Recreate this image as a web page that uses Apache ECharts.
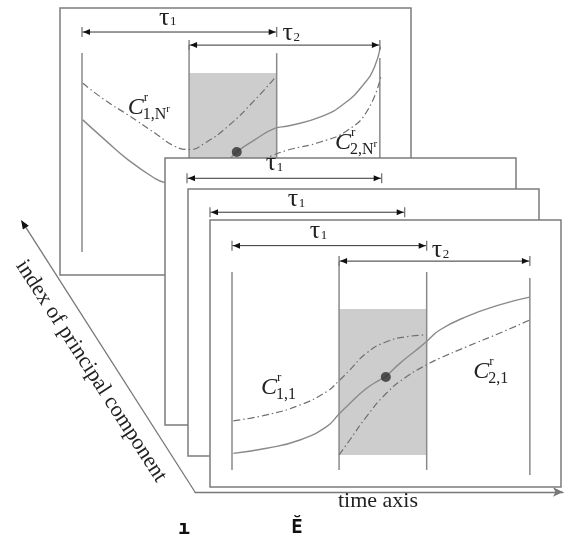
<!DOCTYPE html>
<html><head><meta charset="utf-8">
<script src="https://cdn.jsdelivr.net/npm/echarts@6/dist/echarts.min.js"></script>
<style>html,body{margin:0;padding:0;background:#fff}#c{width:568px;height:537px}</style>
</head><body><div id="c"></div><script>
// ---------- DATA (time units along x, amplitude 0-100 along y) ----------
// Back panel (principal component N^r)
const backSolidLeft  = [[0.04,58.1],[1.18,50.6],[2.37,43.1],[3.74,36.2],[4.26,34.6]];
const backSolidRight = [[7.59,43.3],[7.93,46.0],[8.87,50.6],[9.9,54.9],[10.58,55.8],[12.29,59.3],[13.49,64.3],[14.51,71.8],[15.03,78.0],[15.33,85.5]];
const backDash1 = [[0.04,71.8],[1.18,65.5],[2.37,59.9],[3.74,53.2],[4.77,48.2],[5.54,47.0],[6.31,49.4],[7.5,55.7],[8.87,65.5],[9.95,74.2]];
const backDash2 = [[9.2,42.8],[9.73,44.6],[10.58,46.8],[12.29,49.9],[13.66,54.3],[14.68,61.8],[15.37,74.9]];
const backDot = [[7.95,46.1]];
const backShade = [[5.5,10,75.7,5]];
const backVLines = [[0,83.1,8.6],[5.5,86.1,8.6],[10,83.1,8.6],[15.3,81.3,8.6]];
const backDims = [[0,10,91.0],[5.5,15.3,86.1]];
const backTaus = [[3.95,95.3,'1'],[10.3,89.5,'2']];
const backCLabels = [[2.35,62.7,'1,N','r'],[13.0,49.6,'2,N','r']];

// Middle panels (only the tau_1 window visible)
const mid2Dims = [[0,10,92.4]];
const mid2Taus = [[4.05,97.0,'1']];
const mid3Dims = [[0,10,91.3]];
const mid3Taus = [[4.0,95.2,'1']];

// Front panel (principal component 1)
const frontSolid = [[0.07,12.6],[1.78,14.5],[3.49,17.6],[4.86,22.6],[5.5,27.3],[6.05,31.3],[6.9,36.9],[7.59,40.1],[7.88,41.3],[8.62,46.3],[9.47,51.3],[9.98,54.4],[10.67,58.8],[12.04,63.8],[13.74,68.2],[15.28,71.1]];
const frontDash1 = [[0.07,24.8],[1.78,27.0],[3.49,30.7],[4.86,35.7],[5.5,39.8],[6.05,43.8],[6.9,50.1],[7.93,54.4],[8.96,56.3],[9.98,56.9]];
const frontDash2 = [[5.5,12.0],[6.05,17.6],[6.9,26.3],[7.93,35.1],[8.96,41.3],[9.98,45.7],[10.67,48.2],[12.04,52.5],[13.74,57.6],[15.28,62.5]];
const frontDot = [[7.9,41.2]];
const frontShade = [[5.5,10,66.7,12.0]];
const frontVLines = [[0,80.5,6.4],[5.5,84.3,6.4],[10,80.5,6.4],[15.3,78.3,4.5]];
const frontDims = [[0,10,90.4],[5.5,15.3,84.6]];
const frontTaus = [[4.0,94.9,'1'],[10.26,87.6,'2']];
const frontCLabels = [[1.49,37.1,'1,1',''],[12.39,43.2,'2,1','']];

const xAxisTitle = 'time axis';
const yAxisTitle = 'index of principal component';

// ---------- LAYOUT ----------
const PW = 351, PH = 267;
const panelPos = [[60,8],[165,158],[188,189],[210,220]];
const SERIF = '"Liberation Serif","Times New Roman",serif';
const GREY = '#8a8a8a';

function shadeRender(arr){
  return function(params, api){
    const d = arr[params.dataIndex];
    const a = api.coord([d[0], d[2]]), b = api.coord([d[1], d[3]]);
    return {type:'rect', shape:{x:a[0], y:a[1], width:b[0]-a[0], height:b[1]-a[1]}, style:{fill:'#cdcdcd'}};
  };
}
function vlineRender(arr){
  return function(params, api){
    const d = arr[params.dataIndex];
    const a = api.coord([d[0], d[1]]), b = api.coord([d[0], d[2]]);
    return {type:'line', shape:{x1:a[0], y1:a[1], x2:b[0], y2:b[1]}, style:{stroke:GREY, lineWidth:1.5}};
  };
}
function dimRender(arr){
  return function(params, api){
    const d = arr[params.dataIndex];
    const a = api.coord([d[0], d[2]]), b = api.coord([d[1], d[2]]);
    const y = a[1], L = 7, W = 3;
    return {type:'group', children:[
      {type:'line', shape:{x1:a[0], y1:y, x2:b[0], y2:y}, style:{stroke:'#333', lineWidth:1}},
      {type:'line', shape:{x1:a[0], y1:y-5, x2:a[0], y2:y+5}, style:{stroke:'#777', lineWidth:1.3}},
      {type:'line', shape:{x1:b[0], y1:y-5, x2:b[0], y2:y+5}, style:{stroke:'#777', lineWidth:1.3}},
      {type:'polygon', shape:{points:[[a[0]+1,y],[a[0]+1+L,y-W],[a[0]+1+L,y+W]]}, style:{fill:'#111'}},
      {type:'polygon', shape:{points:[[b[0]-1,y],[b[0]-1-L,y-W],[b[0]-1-L,y+W]]}, style:{fill:'#111'}}
    ]};
  };
}
function tauRender(arr){
  return function(params, api){
    const d = arr[params.dataIndex];
    const p = api.coord([d[0], d[1]]);
    return {type:'group', children:[
      {type:'text', x:p[0], y:p[1]-2.5, style:{text:'τ', font:'26px '+SERIF, fill:'#222', align:'left', verticalAlign:'middle'}},
      {type:'text', x:p[0]+11, y:p[1]+1.5, style:{text:d[2], font:'13px '+SERIF, fill:'#222', align:'left', verticalAlign:'middle'}}
    ]};
  };
}
function cRender(arr){
  return function(params, api){
    const d = arr[params.dataIndex];
    const p = api.coord([d[0], d[1]]);
    const ch = [
      {type:'text', x:p[0], y:p[1], style:{text:'C', font:'italic 24px '+SERIF, fill:'#222', align:'left', verticalAlign:'middle'}},
      {type:'text', x:p[0]+16, y:p[1]-10, style:{text:'r', font:'13px '+SERIF, fill:'#222', align:'left', verticalAlign:'middle'}},
      {type:'text', x:p[0]+15, y:p[1]+7, style:{text:d[2], font:'16px '+SERIF, fill:'#222', align:'left', verticalAlign:'middle'}}
    ];
    if (d[3]) ch.push({type:'text', x:p[0]+38.5, y:p[1]+2, style:{text:d[3], font:'11px '+SERIF, fill:'#222', align:'left', verticalAlign:'middle'}});
    return {type:'group', children:ch};
  };
}

const grids = [], xAxes = [], yAxes = [], series = [];
panelPos.forEach((p,i) => {
  grids.push({left:p[0], top:p[1], width:PW, height:PH, show:true, backgroundColor:'#fff', borderColor:'#7c7c7c', borderWidth:1.5, z:10*(i+1)});
  xAxes.push({gridIndex:i, type:'value', min:-1.13, max:16.9, show:false});
  yAxes.push({gridIndex:i, type:'value', min:0, max:100, show:false});
});
// time axis grid
grids.push({left:195, right:5, top:480, height:12, show:false});
xAxes.push({gridIndex:4, type:'value', min:0, max:1, show:true, position:'bottom',
  axisLine:{show:true, lineStyle:{color:'#777', width:1.3}, symbol:['none','arrow'], symbolSize:[7,10]},
  axisTick:{show:false}, axisLabel:{show:false}, splitLine:{show:false}});
yAxes.push({gridIndex:4, type:'value', show:false});

function addCustom(i, arr, render, zo){
  series.push({type:'custom', xAxisIndex:i, yAxisIndex:i, z:10*(i+1)+zo, silent:true,
    data:arr.map(d=>[d[0], d[1]]), renderItem:render(arr)});
}
function addLine(i, arr, dashed){
  series.push({type:'line', xAxisIndex:i, yAxisIndex:i, z:10*(i+1)+3, data:arr, smooth:0.5,
    showSymbol:false, silent:true,
    lineStyle:{color: dashed ? '#707070' : GREY, width: dashed ? 1.2 : 1.4, type: dashed ? [7,3,1.5,3] : 'solid'}});
}
function addDot(i, arr){
  series.push({type:'scatter', xAxisIndex:i, yAxisIndex:i, z:10*(i+1)+4, data:arr, symbolSize:10, silent:true,
    itemStyle:{color:'#2e2e2e'}});
}

// back panel (index 0)
addCustom(0, backShade, shadeRender, 1);
addCustom(0, backVLines, vlineRender, 2);
addLine(0, backSolidLeft, false);
addLine(0, backSolidRight, false);
addLine(0, backDash1, true);
addLine(0, backDash2, true);
addDot(0, backDot);
addCustom(0, backDims, dimRender, 5);
addCustom(0, backTaus, tauRender, 5);
addCustom(0, backCLabels, cRender, 5);
// middle panels
addCustom(1, mid2Dims, dimRender, 5);
addCustom(1, mid2Taus, tauRender, 5);
addCustom(2, mid3Dims, dimRender, 5);
addCustom(2, mid3Taus, tauRender, 5);
// front panel (index 3)
addCustom(3, frontShade, shadeRender, 1);
addCustom(3, frontVLines, vlineRender, 2);
addLine(3, frontSolid, false);
addLine(3, frontDash1, true);
addLine(3, frontDash2, true);
addDot(3, frontDot);
addCustom(3, frontDims, dimRender, 5);
addCustom(3, frontTaus, tauRender, 5);
addCustom(3, frontCLabels, cRender, 5);

const chart = echarts.init(document.getElementById('c'), null, {renderer:'canvas'});
chart.setOption({
  animation:false,
  backgroundColor:'#fff',
  grid:grids, xAxis:xAxes, yAxis:yAxes, series:series,
  graphic:[
    {type:'line', shape:{x1:195, y1:492, x2:26, y2:227.6}, style:{stroke:'#777', lineWidth:1.3}, z:100},
    {type:'polygon', shape:{points:[[21,220],[28.8,225.7],[22.9,229.5]]}, style:{fill:'#111'}, z:100},
    {type:'text', x:91, y:371, rotation:-0.995, style:{text:yAxisTitle, font:'22px '+SERIF, fill:'#222', align:'center', verticalAlign:'middle'}, z:100},
    {type:'text', x:378, y:501, style:{text:xAxisTitle, font:'22px '+SERIF, fill:'#222', align:'center', verticalAlign:'middle'}, z:100},
    {type:'text', x:184, y:529, style:{text:'ı', font:'bold 20px "DejaVu Sans Mono",monospace', fill:'#111', align:'center', verticalAlign:'middle'}, z:100},
    {type:'text', x:297, y:528, style:{text:'Ĕ', font:'bold 19px "DejaVu Sans Mono",monospace', fill:'#111', align:'center', verticalAlign:'middle'}, z:100}
  ]
});
</script></body></html>
